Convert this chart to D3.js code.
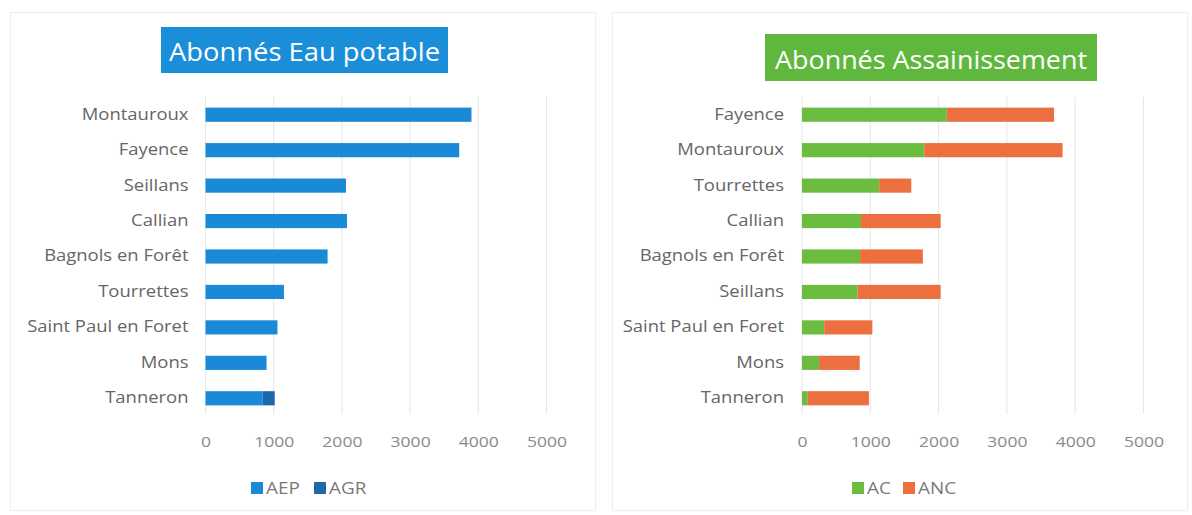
<!DOCTYPE html>
<html>
<head>
<meta charset="utf-8">
<script src="https://cdn.jsdelivr.net/npm/d3@7"></script>
<style>
  html, body { margin: 0; padding: 0; background: #fff; }
  svg { display: block; }
  text { font-family: "Open Sans", sans-serif; }
</style>
</head>
<body>
<svg id="chart" width="1192" height="515"></svg>
<script>
// ---- Data ----
const ticks = [0, 1000, 2000, 3000, 4000, 5000];

const eauCategories = ["Montauroux", "Fayence", "Seillans", "Callian", "Bagnols en Forêt", "Tourrettes", "Saint Paul en Foret", "Mons", "Tanneron"];
const aepValues = [3900, 3720, 2060, 2075, 1790, 1150, 1055, 895, 840];
const agrValues = [0, 0, 0, 0, 0, 0, 0, 0, 175];
const eauSeries = ["AEP", "AGR"];

const assCategories = ["Fayence", "Montauroux", "Tourrettes", "Callian", "Bagnols en Forêt", "Seillans", "Saint Paul en Foret", "Mons", "Tanneron"];
const acValues = [2120, 1790, 1130, 865, 850, 815, 325, 250, 85];
const ancValues = [1570, 2025, 470, 1165, 920, 1215, 705, 595, 895];
const assSeries = ["AC", "ANC"];

const svg = d3.select("#chart");

// widen text horizontally (reference glyphs are wider than the available fonts)
function stretch(sel, k) {
  sel.each(function () {
    const w = this.getComputedTextLength();
    d3.select(this).attr("textLength", w * k).attr("lengthAdjust", "spacingAndGlyphs");
  });
}

function drawPanel(cfg) {
  const g = svg.append("g");
  // panel frame
  g.append("rect")
    .attr("x", cfg.panel[0]).attr("y", cfg.panel[1])
    .attr("width", cfg.panel[2]).attr("height", cfg.panel[3])
    .attr("fill", "none").attr("stroke", "#eeeeee").attr("stroke-width", 1);

  // title box
  g.append("rect")
    .attr("x", cfg.titleBox[0]).attr("y", cfg.titleBox[1])
    .attr("width", cfg.titleBox[2]).attr("height", cfg.titleBox[3])
    .attr("fill", cfg.titleColor);
  g.append("text")
    .attr("x", cfg.titleBox[0] + cfg.titleBox[2] / 2)
    .attr("y", cfg.titleBox[1] + cfg.titleBox[3] / 2 + 1)
    .attr("text-anchor", "middle").attr("dominant-baseline", "central")
    .attr("fill", "#ffffff").style("font-size", "25px")
    .attr("textLength", cfg.titleWidth).attr("lengthAdjust", "spacingAndGlyphs")
    .text(cfg.title);

  const x = d3.scaleLinear().domain([0, 5000]).range([cfg.x0, cfg.x1]);
  const y = d3.scaleBand().domain(cfg.categories).range([cfg.yTop, cfg.yBottom]).paddingInner(0.6).paddingOuter(0.3);

  // gridlines
  g.append("g").selectAll("line").data(ticks).join("line")
    .attr("x1", d => x(d)).attr("x2", d => x(d))
    .attr("y1", cfg.yTop).attr("y2", cfg.gridBottom)
    .attr("stroke", "#e6e6e6").attr("stroke-width", 1);

  // stacked bars
  const rows = cfg.categories.map((c, i) => {
    const o = { cat: c };
    cfg.series.forEach((s, k) => o[s] = cfg.values[k][i]);
    return o;
  });
  const stack = d3.stack().keys(cfg.series)(rows);
  g.append("g").selectAll("g").data(stack).join("g")
    .attr("fill", (d, k) => cfg.colors[k])
    .selectAll("rect").data(d => d).join("rect")
    .attr("x", d => x(d[0]))
    .attr("width", d => Math.max(0, x(d[1]) - x(d[0])))
    .attr("y", d => y(d.data.cat))
    .attr("height", y.bandwidth());

  // x axis
  const xa = g.append("g").attr("transform", `translate(0, ${cfg.tickY})`)
    .call(d3.axisBottom(x).tickValues(ticks).tickSize(0).tickPadding(0).tickFormat(d3.format("d")));
  xa.select(".domain").remove();
  xa.selectAll("text").attr("fill", "#8a8a8a").style("font-size", "15px")
    .attr("dy", "0.35em").attr("y", 0);
  stretch(xa.selectAll("text"), 1.17);

  // y axis
  const ya = g.append("g").attr("transform", `translate(${cfg.x0}, 0)`)
    .call(d3.axisLeft(y).tickSize(0).tickPadding(cfg.labelPad));
  ya.select(".domain").remove();
  ya.selectAll("text").attr("fill", "#666666").style("font-size", "15.5px");
  stretch(ya.selectAll("text"), 1.19);

  // legend
  cfg.series.forEach((s, k) => {
    const lx = cfg.legendX[k];
    g.append("rect").attr("x", lx).attr("y", 482).attr("width", 12).attr("height", 12).attr("fill", cfg.colors[k]);
    const t = g.append("text").attr("x", lx + 15).attr("y", 488).attr("dominant-baseline", "central")
      .attr("fill", "#7a7a7a").style("font-size", "15.5px").text(s);
    stretch(t, 1.22);
  });
}

drawPanel({
  panel: [10.5, 12.5, 585, 498],
  titleBox: [161, 27, 287, 46],
  titleColor: "#1a8ed8",
  title: "Abonnés Eau potable",
  titleWidth: 271,
  categories: eauCategories,
  series: eauSeries,
  values: [aepValues, agrValues],
  colors: ["#1a8ad6", "#1f67a8"],
  x0: 205.5, x1: 546.5,
  yTop: 97, yBottom: 416, gridBottom: 414,
  tickY: 442,
  labelPad: 17,
  legendX: [251, 314]
});

drawPanel({
  panel: [612.5, 12.5, 575, 498],
  titleBox: [765, 34, 332, 47],
  titleColor: "#5fb83d",
  title: "Abonnés Assainissement",
  titleWidth: 312,
  categories: assCategories,
  series: assSeries,
  values: [acValues, ancValues],
  colors: ["#6cbd3f", "#ec6f40"],
  x0: 802, x1: 1143.5,
  yTop: 97, yBottom: 416, gridBottom: 414,
  tickY: 442,
  labelPad: 18,
  legendX: [852, 903]
});
</script>
</body>
</html>
